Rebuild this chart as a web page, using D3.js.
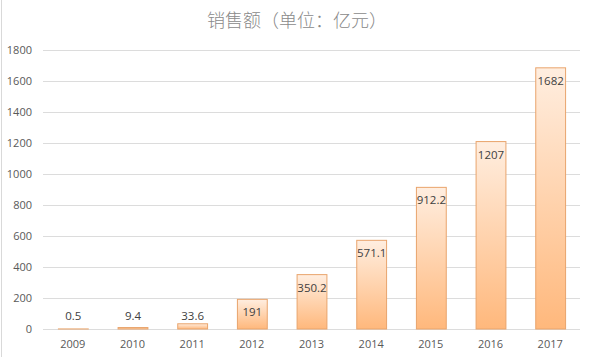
<!DOCTYPE html>
<html><head><meta charset="utf-8">
<script src="https://cdn.jsdelivr.net/npm/d3@7"></script>
<style>body{margin:0;background:#fff}svg{display:block}</style>
</head><body>
<script>
const categories = ["2009","2010","2011","2012","2013","2014","2015","2016","2017"];
const values = [0.5, 9.4, 33.6, 191, 350.2, 571.1, 912.2, 1207, 1682];
const labels = ["0.5","9.4","33.6","191","350.2","571.1","912.2","1207","1682"];
const yTicks = [0,200,400,600,800,1000,1200,1400,1600,1800];
const title = "销售额（单位：亿元）";

const W = 594, H = 357;
const svg = d3.select("body").append("svg").attr("width", W).attr("height", H);
const defs = svg.append("defs");
const grad = defs.append("linearGradient").attr("id","g").attr("x1",0).attr("y1",0).attr("x2",0).attr("y2",1);
grad.append("stop").attr("offset","0%").attr("stop-color","#ffeee0");
grad.append("stop").attr("offset","100%").attr("stop-color","#ffb87c");

svg.append("rect").attr("x",0).attr("y",0).attr("width",W).attr("height",H).attr("fill","#fff");
svg.append("line").attr("x1",1.5).attr("x2",1.5).attr("y1",0).attr("y2",H).attr("stroke","#d9d9d9").attr("stroke-width",1);

const x = d3.scaleBand().domain(categories).range([43, 580]).paddingInner(0.5).paddingOuter(0.25);
const y = d3.scaleLinear().domain([0,1800]).range([329, 49.5]);

const font = "'Noto Sans CJK SC','Noto Sans',sans-serif";

svg.append("text").attr("x", 297).attr("y", 27).attr("text-anchor","middle")
  .attr("font-family", font).attr("font-size", 18).attr("font-weight",300).attr("fill","#8a8a8a").text(title);

// gridlines
svg.append("g").selectAll("line").data(yTicks).join("line")
  .attr("x1",43).attr("x2",580)
  .attr("y1",d=>Math.round(y(d))+0.5).attr("y2",d=>Math.round(y(d))+0.5)
  .attr("stroke","#dcdcdc").attr("stroke-width",1);

// y axis labels
const yAxis = d3.axisLeft(y).tickValues(yTicks).tickFormat(d3.format("d")).tickSize(0).tickPadding(0);
const ga = svg.append("g").attr("transform","translate(32,0)").call(yAxis);
ga.select(".domain").remove();
ga.selectAll("text").attr("font-family","'Open Sans','Noto Sans',sans-serif").attr("font-size",11).attr("fill","#595959");

// x axis labels
const xAxis = d3.axisBottom(x).tickSize(0).tickPadding(0);
const gx = svg.append("g").attr("transform","translate(0,340)").call(xAxis);
gx.select(".domain").remove();
gx.selectAll("text").attr("font-family","'Open Sans','Noto Sans',sans-serif").attr("font-size",11).attr("fill","#595959");

// bars
svg.append("g").selectAll("rect").data(values).join("rect")
  .attr("x",(d,i)=>x(categories[i])+0.5)
  .attr("width",x.bandwidth())
  .attr("y",d=>y(d))
  .attr("height",d=>y(0)-y(d))
  .attr("fill","url(#g)")
  .attr("stroke","#e9a46c").attr("stroke-width",1);

// data labels
svg.append("g").selectAll("text").data(values).join("text")
  .attr("x",(d,i)=>x(categories[i])+x.bandwidth()/2+0.5)
  .attr("y",d=>{const h=y(0)-y(d); return (h>=26? y(d)+13 : y(0)-13) + 4;})
  .attr("text-anchor","middle")
  .attr("font-family","'Open Sans','Noto Sans',sans-serif").attr("font-size",11.5).attr("fill","#404040")
  .text((d,i)=>labels[i]);
</script>
</body></html>
